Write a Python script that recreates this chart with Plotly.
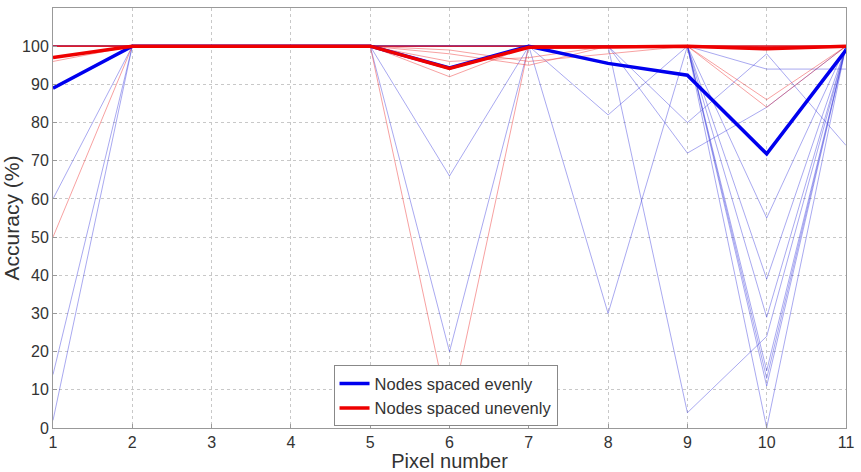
import plotly.graph_objects as go

pixels = [1, 2, 3, 4, 5, 6, 7, 8, 9, 10, 11]

# individual runs (thin lines)
blue_runs = [
    [60, 100, 100, 100, 100, 100, 100, 100, 100, 100, 100],
    [14, 100, 100, 100, 100, 100, 100, 100, 100, 55, 100],
    [2, 100, 100, 100, 100, 100, 100, 100, 100, 0, 100],
    [100, 100, 100, 100, 100, 66, 100, 100, 100, 39, 100],
    [100, 100, 100, 100, 100, 20, 100, 100, 100, 29, 100],
    [100, 100, 100, 100, 100, 100, 100, 30, 100, 15, 100],
    [100, 100, 100, 100, 100, 100, 100, 82, 100, 11, 100],
    [100, 100, 100, 100, 100, 100, 100, 100, 4, 24, 100],
    [100, 100, 100, 100, 100, 100, 100, 100, 72, 84, 100],
    [100, 100, 100, 100, 100, 100, 100, 100, 80, 98, 74],
    [100, 100, 100, 100, 100, 100, 100, 100, 100, 94, 94],
    [100, 100, 100, 100, 100, 100, 100, 100, 100, 13, 100],
    [100, 100, 100, 100, 100, 100, 100, 100, 100, 100, 100],
]
red_runs = [
    [50, 100, 100, 100, 100, 100, 100, 100, 100, 100, 100],
    [96, 100, 100, 100, 100, 100, 100, 100, 100, 100, 100],
    [100, 100, 100, 100, 100, 3, 100, 100, 100, 100, 100],
    [100, 100, 100, 100, 100, 92, 100, 100, 100, 100, 100],
    [100, 100, 100, 100, 100, 96, 97, 100, 100, 100, 100],
    [100, 100, 100, 100, 100, 98, 95, 100, 100, 100, 100],
    [100, 100, 100, 100, 100, 99, 96, 98, 100, 100, 100],
    [100, 100, 100, 100, 100, 100, 100, 100, 100, 84, 100],
    [100, 100, 100, 100, 100, 100, 100, 100, 100, 86, 100],
    [100, 100, 100, 100, 100, 100, 100, 100, 100, 100, 100],
]

# mean lines (thick)
blue_mean = [89, 100, 100, 100, 100, 94.3, 100, 95.5, 92.4, 71.8, 99]
red_mean = [97, 100, 100, 100, 100, 94.2, 99.7, 99.8, 100, 99.3, 100]

y_ticks = [0, 10, 20, 30, 40, 50, 60, 70, 80, 90, 100]

fig = go.Figure()
for r in blue_runs:
    fig.add_trace(go.Scatter(x=pixels, y=r, mode="lines",
                             line=dict(color="rgba(50,50,220,0.42)", width=1),
                             showlegend=False, hoverinfo="skip"))
for r in red_runs:
    fig.add_trace(go.Scatter(x=pixels, y=r, mode="lines",
                             line=dict(color="rgba(235,30,30,0.42)", width=1),
                             showlegend=False, hoverinfo="skip"))

fig.add_trace(go.Scatter(x=pixels, y=blue_mean, mode="lines",
                         name="Nodes spaced evenly",
                         line=dict(color="#0000ee", width=3.5)))
fig.add_trace(go.Scatter(x=pixels, y=red_mean, mode="lines",
                         name="Nodes spaced unevenly",
                         line=dict(color="#ee0000", width=3.5)))

font_family = "Liberation Sans, Arial, Helvetica, sans-serif"

fig.update_layout(
    width=861, height=472,
    margin=dict(l=50, r=9, t=7, b=42),
    paper_bgcolor="white", plot_bgcolor="white",
    font=dict(family=font_family, color="#333333"),
    legend=dict(x=0.495, y=0.004, xanchor="center", yanchor="bottom",
                bgcolor="white", bordercolor="#888888", borderwidth=1,
                font=dict(size=16.5, color="#333333"),
                tracegroupgap=0, itemwidth=30),
    xaxis=dict(range=[1, 11], tickmode="array", tickvals=pixels,
               ticktext=[str(p) for p in pixels],
               showgrid=True, gridcolor="#c8c8c8", griddash="dot", gridwidth=1,
               showline=True, linecolor="#999999", linewidth=1, mirror=True,
               ticks="inside", ticklen=4, tickcolor="#999999",
               tickfont=dict(size=16, color="#333333"),
               zeroline=False,
               title=dict(text="Pixel number", font=dict(size=20, color="#333333"),
                          standoff=0)),
    yaxis=dict(range=[0, 110], tickmode="array", tickvals=y_ticks,
               showgrid=True, gridcolor="#c8c8c8", griddash="dot", gridwidth=1,
               showline=True, linecolor="#999999", linewidth=1, mirror=True,
               ticks="inside", ticklen=4, tickcolor="#999999",
               tickfont=dict(size=16, color="#333333"),
               zeroline=False,
               title=dict(text="Accuracy (%)", font=dict(size=21, color="#333333"),
                          standoff=0)),
)

fig.write_html("out.html")
